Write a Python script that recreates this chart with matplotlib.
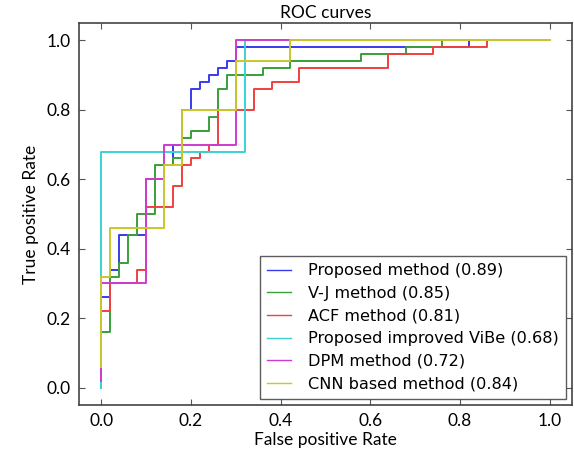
import matplotlib
matplotlib.use("Agg")
import matplotlib.pyplot as plt

# ---------------------------------------------------------------------------
# ROC step curves (corner points)
# ---------------------------------------------------------------------------
labels = [
    "Proposed method (0.89)",
    "V-J method (0.85)",
    "ACF method (0.81)",
    "Proposed improved ViBe (0.68)",
    "DPM method (0.72)",
    "CNN based method (0.84)",
]

prop_fpr = [0, 0, 0.02, 0.02, 0.04, 0.04, 0.10, 0.10, 0.14, 0.14, 0.16, 0.16, 0.18, 0.18,
            0.20, 0.20, 0.22, 0.22, 0.24, 0.24, 0.26, 0.26, 0.28, 0.28, 0.30, 0.30, 0.82, 0.82, 1.0]
prop_tpr = [0, 0.26, 0.26, 0.34, 0.34, 0.44, 0.44, 0.60, 0.60, 0.64, 0.64, 0.70, 0.70, 0.80,
            0.80, 0.86, 0.86, 0.88, 0.88, 0.90, 0.90, 0.92, 0.92, 0.94, 0.94, 0.98, 0.98, 1.0, 1.0]

vj_fpr = [0, 0, 0.02, 0.02, 0.04, 0.04, 0.06, 0.06, 0.08, 0.08, 0.12, 0.12, 0.16, 0.16, 0.18,
          0.18, 0.20, 0.20, 0.24, 0.24, 0.26, 0.26, 0.28, 0.28, 0.36, 0.36, 0.42, 0.42, 0.58,
          0.58, 0.68, 0.68, 0.76, 0.76, 1.0]
vj_tpr = [0, 0.16, 0.16, 0.32, 0.32, 0.36, 0.36, 0.44, 0.44, 0.50, 0.50, 0.64, 0.64, 0.66, 0.66,
          0.72, 0.72, 0.74, 0.74, 0.78, 0.78, 0.86, 0.86, 0.90, 0.90, 0.92, 0.92, 0.94, 0.94,
          0.96, 0.96, 0.98, 0.98, 1.0, 1.0]

acf_fpr = [0, 0, 0.02, 0.02, 0.08, 0.08, 0.10, 0.10, 0.16, 0.16, 0.18, 0.18, 0.20, 0.20, 0.22,
           0.22, 0.24, 0.24, 0.26, 0.26, 0.34, 0.34, 0.38, 0.38, 0.44, 0.44, 0.64, 0.64, 0.74,
           0.74, 0.86, 0.86, 1.0]
acf_tpr = [0, 0.22, 0.22, 0.30, 0.30, 0.34, 0.34, 0.52, 0.52, 0.58, 0.58, 0.64, 0.64, 0.66, 0.66,
           0.68, 0.68, 0.70, 0.70, 0.80, 0.80, 0.86, 0.86, 0.88, 0.88, 0.92, 0.92, 0.96, 0.96,
           0.98, 0.98, 1.0, 1.0]

vibe_fpr = [0, 0, 0.32, 0.32, 1.0]
vibe_tpr = [0, 0.68, 0.68, 1.0, 1.0]

dpm_fpr = [0, 0, 0.10, 0.10, 0.14, 0.14, 0.30, 0.30, 1.0]
dpm_tpr = [0.02, 0.30, 0.30, 0.60, 0.60, 0.70, 0.70, 1.0, 1.0]

cnn_fpr = [0, 0, 0.02, 0.02, 0.14, 0.14, 0.18, 0.18, 0.30, 0.30, 0.42, 0.42, 1.0]
cnn_tpr = [0.06, 0.32, 0.32, 0.46, 0.46, 0.64, 0.64, 0.80, 0.80, 0.94, 0.94, 1.0, 1.0]

curves = [(prop_fpr, prop_tpr), (vj_fpr, vj_tpr), (acf_fpr, acf_tpr),
          (vibe_fpr, vibe_tpr), (dpm_fpr, dpm_tpr), (cnn_fpr, cnn_tpr)]
colors = ["#3a3aee", "#38a038", "#f04040", "#3ad2d2", "#d03ad0", "#c8c828"]

# ---------------------------------------------------------------------------
# Plot
# ---------------------------------------------------------------------------
tick_font = "Lato"

fig = plt.figure(figsize=(5.74, 4.53), dpi=100)
ax = fig.add_axes([0.1376, 0.106, 0.859, 0.843])

for (fpr, tpr), color, label in zip(curves, colors, labels):
    ax.plot(fpr, tpr, color=color, linewidth=1.4, label=label)

ax.set_xlim(-0.05, 1.05)
ax.set_ylim(-0.05, 1.05)
ax.set_xticks([0.0, 0.2, 0.4, 0.6, 0.8, 1.0])
ax.set_yticks([0.0, 0.2, 0.4, 0.6, 0.8, 1.0])
ax.tick_params(direction="in", top=True, right=True, length=4, width=0.8,
               color="#555555", labelsize=12.5, pad=6)
for lbl in ax.get_xticklabels() + ax.get_yticklabels():
    lbl.set_fontfamily(tick_font)

for sp in ax.spines.values():
    sp.set_color("#444444")
    sp.set_linewidth(1.2)

ax.set_xlabel("False positive Rate", fontsize=12.5, family=tick_font, labelpad=2)
ax.set_ylabel("True positive Rate", fontsize=12.5, family=tick_font, labelpad=5)
ax.set_title("ROC curves", fontsize=12.5, family=tick_font, pad=4)

leg = ax.legend(loc="lower right", fontsize=11.6, frameon=True, fancybox=False,
                handlelength=1.45, handletextpad=1.05, labelspacing=0.47,
                borderpad=0.45, borderaxespad=0.4)
leg.get_frame().set_edgecolor("#333333")
leg.get_frame().set_linewidth(1.0)
for h in leg.get_lines():
    h.set_linewidth(1.0)

plt.savefig("out.png", dpi=100)
